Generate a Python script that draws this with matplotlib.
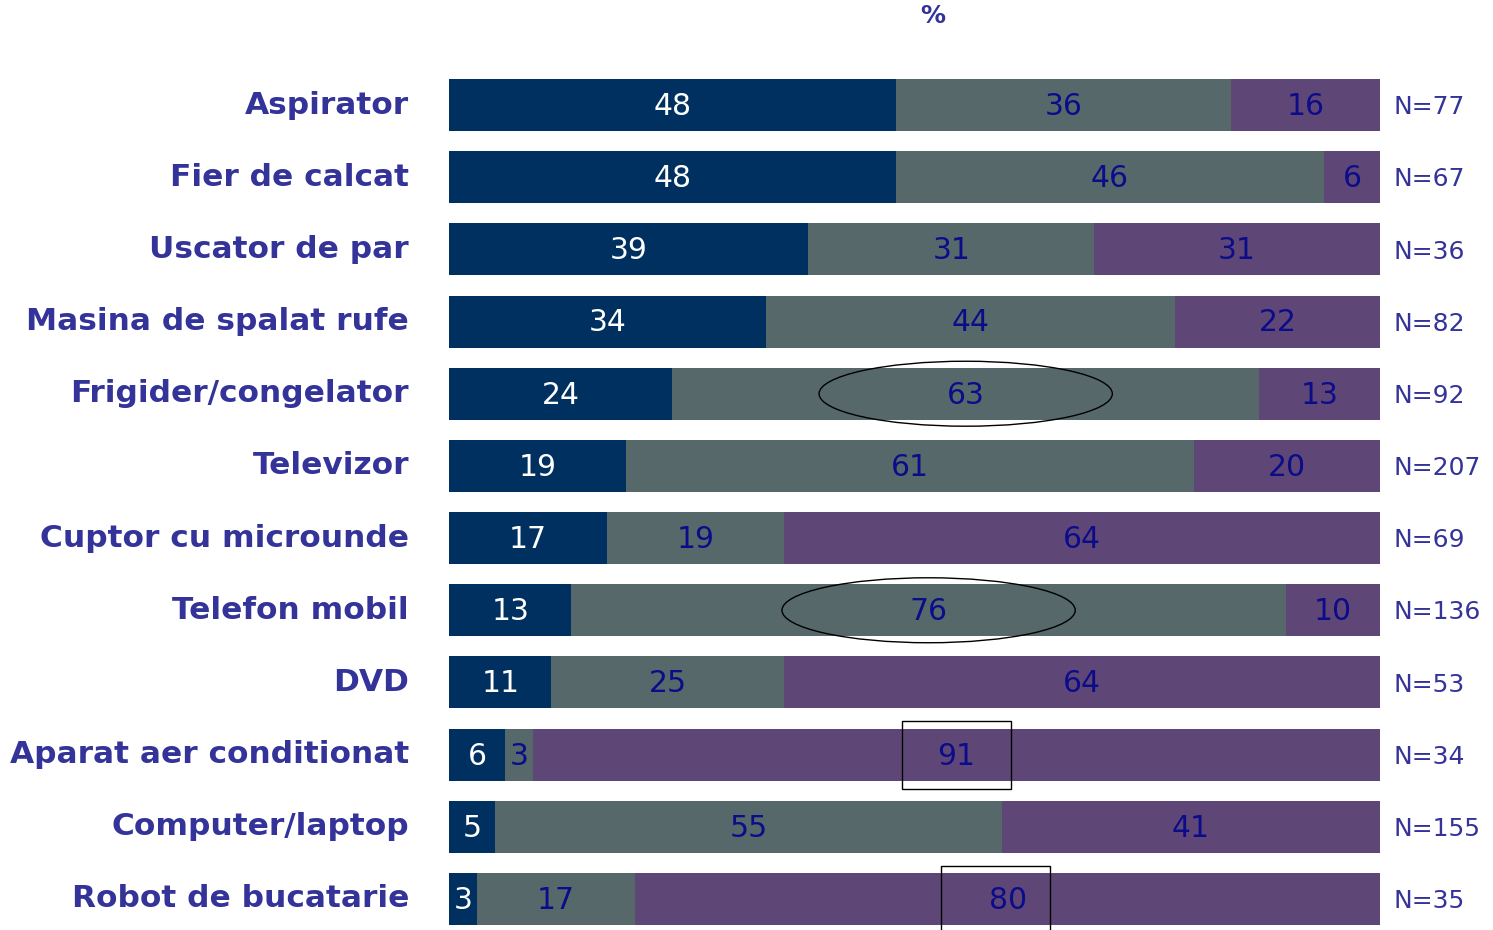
"""
Horizontal 100% stacked bars: share of each answer per household appliance.
"""
import matplotlib
matplotlib.use("Agg")
import matplotlib.pyplot as plt
from matplotlib.patches import Ellipse, Rectangle

categories = ["Aspirator", "Fier de calcat", "Uscator de par", "Masina de spalat rufe",
              "Frigider/congelator", "Televizor", "Cuptor cu microunde", "Telefon mobil",
              "DVD", "Aparat aer conditionat", "Computer/laptop", "Robot de bucatarie"]
first = [48, 48, 39, 34, 24, 19, 17, 13, 11, 6, 5, 3]
second = [36, 46, 31, 44, 63, 61, 19, 76, 25, 3, 55, 17]
third = [16, 6, 31, 22, 13, 20, 64, 10, 64, 91, 41, 80]
n_labels = ["N=77", "N=67", "N=36", "N=82", "N=92", "N=207",
            "N=69", "N=136", "N=53", "N=34", "N=155", "N=35"]

# rows whose middle segment is circled, rows whose last segment is boxed
circled = [4, 7]
boxed = [9, 11]

colors = ["#00305f", "#566869", "#5e4776"]
text_colors = ["white", "#0c0c8a", "#0c0c8a"]
label_color = "#333399"


def main():
    fig = plt.figure(figsize=(14.93, 9.30), dpi=100)
    ax = fig.add_axes([449 / 1493, 0, 931 / 1493, 1])
    ax.set_xlim(0, 100)
    ax.set_ylim(11.43, -1.455)
    ax.axis("off")

    series = [first, second, third]
    for i in range(len(categories)):
        total = first[i] + second[i] + third[i]
        left = 0.0
        mids = []
        for k, vals in enumerate(series):
            w = vals[i] / total * 100
            ax.barh(i, w, left=left, height=0.72, color=colors[k], linewidth=0)
            ax.text(left + w / 2, i + 0.02, str(vals[i]), ha="center", va="center",
                    fontsize=21.5, color=text_colors[k])
            mids.append(left + w / 2)
            left += w

        ax.text(-4.3, i, categories[i], ha="right", va="center", fontsize=22.5,
                fontweight="bold", color=label_color, clip_on=False)
        ax.text(101.4, i + 0.03, n_labels[i], ha="left", va="center", fontsize=18,
                color=label_color, clip_on=False)

        if i in circled:
            ax.add_patch(Ellipse((mids[1], i), 31.5, 0.9, fill=False,
                                 edgecolor="black", linewidth=1))
        if i in boxed:
            cx = mids[2] - (0 if i == 9 else 1.3)
            ax.add_patch(Rectangle((cx - 5.85, i - 0.46), 11.7, 0.93, fill=False,
                                   edgecolor="black", linewidth=1, clip_on=False))

    fig.text(933 / 1493, 1 - 16 / 930, "%", ha="center", va="center", fontsize=18,
             fontweight="bold", color=label_color)

    fig.savefig("out.png", dpi=100)
    plt.close(fig)


if __name__ == "__main__":
    main()
